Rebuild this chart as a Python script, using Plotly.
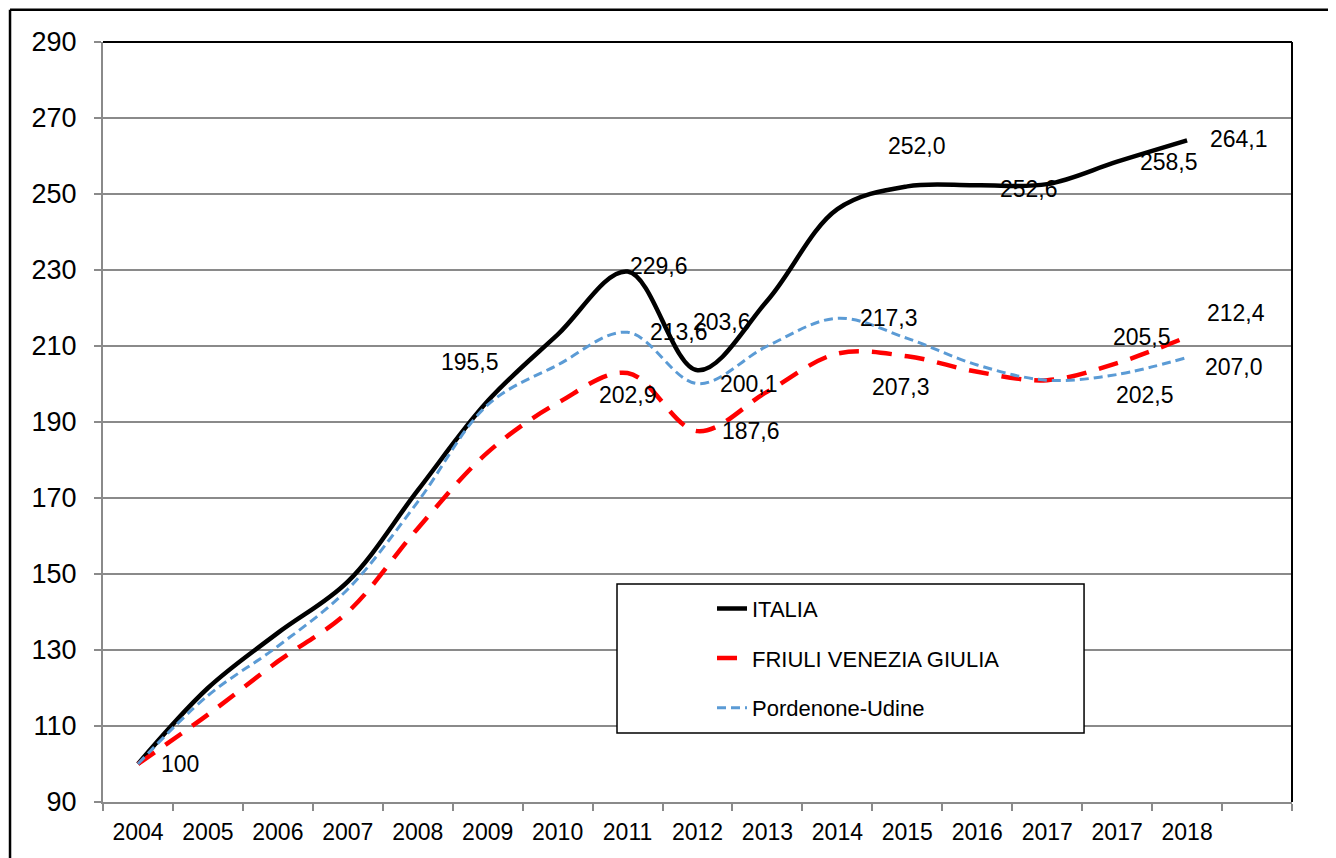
import plotly.graph_objects as go

# ---------------- data ----------------
years = ["2004", "2005", "2006", "2007", "2008", "2009", "2010", "2011",
         "2012", "2013", "2014", "2015", "2016", "2017", "2017", "2018"]
italia = [100, 120, 134.5, 148, 172, 195.5, 213, 229.6, 203.6, 222, 246,
          252.0, 252.3, 252.6, 258.5, 264.1]
fvg = [100, 113, 127, 140, 162, 182, 195, 202.9, 187.6, 198, 208,
       207.3, 203.2, 201, 205.5, 212.4]
pu = [100, 118, 131, 146, 169, 194.5, 205, 213.6, 200.1, 210, 217.3,
      212, 205, 201, 202.5, 207.0]

series_names = ["ITALIA", "FRIULI VENEZIA GIULIA", "Pordenone-Udine"]

# labelled points: index -> (xshift, yshift) in px (style only)
italia_labels = {0: (42, 0), 5: (-18, 39), 7: (31, 6), 8: (24, 48), 11: (10, 40),
                 13: (-18, -5), 14: (52, 0), 15: (52, 1)}
fvg_labels = {7: (0, -22), 8: (53, 0), 11: (-6, -31), 14: (25, 26), 15: (49, 24)}
pu_labels = {7: (51, 0), 8: (51, 0), 10: (52, 0), 14: (28, -20), 15: (47, -10)}

FONT = "Liberation Sans, Arial, sans-serif"
x_idx = list(range(len(years)))


def fmt(v):
    if v == 100:
        return "100"
    return f"{v:.1f}".replace(".", ",")


fig = go.Figure()

styles = [
    dict(color="black", width=4.5, dash="solid"),
    dict(color="#FF0000", width=4.5, dash="20px,13px"),
    dict(color="#5B9BD5", width=3, dash="9px,5px"),
]
data_sets = [italia, fvg, pu]

for i, (name, vals, st) in enumerate(zip(series_names, data_sets, styles)):
    fig.add_trace(go.Scatter(
        x=x_idx, y=vals, mode="lines", name=name,
        line=dict(color=st["color"], width=st["width"], dash=st["dash"],
                  shape="spline", smoothing=1.0),
        legendgroup=name, legendrank=i + 1,
        hoverinfo="skip",
    ))

annotations = []
for vals, labs in [(italia, italia_labels), (fvg, fvg_labels), (pu, pu_labels)]:
    for idx, (dx, dy) in labs.items():
        annotations.append(dict(
            x=idx, y=vals[idx], xref="x", yref="y", text=fmt(vals[idx]),
            showarrow=False, xshift=dx, yshift=dy,
            font=dict(family=FONT, size=23, color="black"),
        ))

shapes = [
    # outer chart frame (left + top)
    dict(type="line", xref="paper", yref="paper", x0=-0.0782, x1=1.05, y0=1.0425, y1=1.0425,
         line=dict(color="black", width=2.5), layer="above"),
    dict(type="line", xref="paper", yref="paper", x0=-0.0782, x1=-0.0782, y0=-0.09, y1=1.0425,
         line=dict(color="black", width=2.5), layer="above"),
    # plot area frame top + right
    dict(type="line", xref="paper", yref="paper", x0=0, x1=1, y0=1, y1=1,
         line=dict(color="black", width=2), layer="above"),
    dict(type="line", xref="paper", yref="paper", x0=1, x1=1, y0=0, y1=1,
         line=dict(color="black", width=2), layer="above"),
    # legend box
    dict(type="rect", xref="paper", yref="paper", x0=0.4323, x1=0.8251, y0=0.0908, y1=0.2868,
         line=dict(color="black", width=1.5), fillcolor="white", layer="above"),
]

fig.update_layout(
    width=1328, height=850,
    margin=dict(l=95, r=44, t=34, b=56),
    paper_bgcolor="white", plot_bgcolor="rgba(0,0,0,0)",
    font=dict(family=FONT, color="black"),
    showlegend=True,
    legend=dict(
        x=0.5122, y=0.282, xanchor="left", yanchor="top",
        bgcolor="rgba(0,0,0,0)", borderwidth=0,
        font=dict(family=FONT, size=22, color="black"),
        traceorder="grouped", tracegroupgap=18, itemwidth=30,
    ),
    annotations=annotations,
    shapes=shapes,
)

fig.update_xaxes(
    range=[-0.5, 16.5],
    tickmode="array", tickvals=x_idx, ticktext=years,
    ticks="", showgrid=False, zeroline=False,
    showline=True, linecolor="#8a8a8a", linewidth=2,
    tickfont=dict(family=FONT, size=23, color="black"),
    ticklabelstandoff=8,
    minor=dict(tick0=0.5, dtick=1, ticks="outside", ticklen=7,
               tickcolor="#8a8a8a", tickwidth=2, showgrid=False),
)
fig.update_yaxes(
    range=[90, 290], tick0=90, dtick=20,
    ticks="outside", ticklen=7, tickcolor="#8a8a8a", tickwidth=2,
    showgrid=True, gridcolor="#8a8a8a", gridwidth=1.5,
    zeroline=False, showline=True, linecolor="#8a8a8a", linewidth=2,
    tickfont=dict(family=FONT, size=27, color="black"),
    ticklabelstandoff=12,
)

fig.write_html("out.html")
